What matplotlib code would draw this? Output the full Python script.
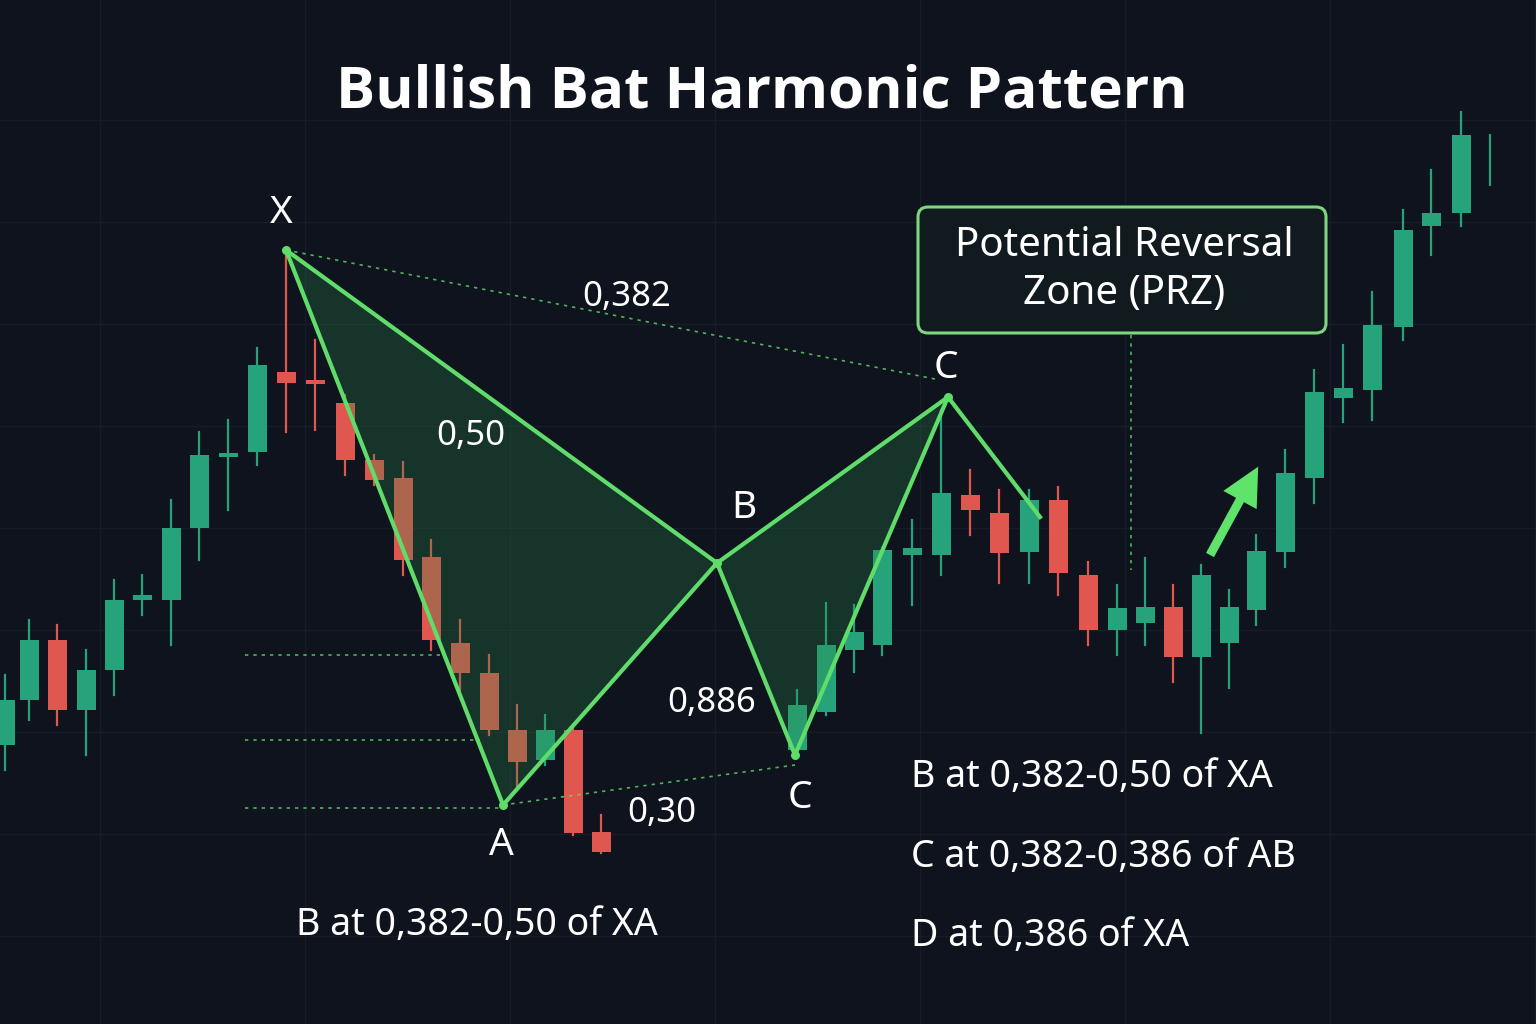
import matplotlib
matplotlib.use("Agg")
import matplotlib.pyplot as plt
from matplotlib.patches import Polygon, FancyBboxPatch, FancyArrow

# candle data (x position, open, close, high, low) in chart units (y grows downward)
cx = [5,29,57,86,114,142,171,199,228,257,286,315,345,374,403,431,460,489,517,545,573,601,
      797,826,854,882,912,941,970,999,1029,1058,1088,1117,1145,1173,1201,1229,1256,1285,1314,1343,1372,1403,1431,1461]
c_open = [745,700,640,710,670,600,600,528,457,452,372,380,403,460,478,557,643,673,730,760,730,832,
          750,712,650,645,555,555,495,513,552,500,575,630,623,607,657,643,610,552,478,398,390,327,226,213]
c_close = [700,640,710,670,600,595,528,455,453,365,383,383,460,480,560,640,673,730,762,730,833,852,
           705,645,632,550,548,493,510,553,500,573,630,608,607,657,575,607,551,473,392,388,325,230,213,135]
c_high = [675,620,625,650,580,575,500,432,420,348,250,340,395,455,462,540,620,655,705,715,725,815,
          690,603,605,548,520,410,470,490,490,487,562,585,558,585,565,590,535,450,370,345,292,210,170,112]
c_low = [770,720,725,755,695,615,645,560,510,465,432,430,475,485,575,650,690,735,790,765,835,853,
         755,715,672,655,605,575,535,583,583,595,645,655,645,682,733,688,625,567,503,422,420,340,255,226]

# pattern points
pts_x = [286,503,717,795,948,1040]
pts_y = [250,805,563,755,397,517]

BG = "#0e131d"; GREEN = "#26a37a"; RED = "#e0574f"; LINE = "#5fdc6a"

fig = plt.figure(figsize=(15.36,10.24), dpi=100, facecolor=BG)
ax = fig.add_axes([0,0,1,1]); ax.set_facecolor(BG)
ax.set_xlim(0,1536); ax.set_ylim(1024,0); ax.axis("off")

for gx in range(100,1536,205):
    ax.axvline(gx, color="#161c28", lw=1, zorder=0)
for gy in range(120,1024,102):
    ax.axhline(gy, color="#161c28", lw=1, zorder=0)

for x,o,c,h,l in zip(cx,c_open,c_close,c_high,c_low):
    col = GREEN if c < o else RED
    ax.plot([x,x],[h,l],color=col,lw=1.6,zorder=2)
    ax.bar(x, abs(c-o) if abs(c-o)>3 else 4, bottom=min(o,c), width=19, color=col, zorder=3)
ax.plot([1490,1490],[135,185],color=GREEN,lw=1.6,zorder=2)

X,A,B,C,C2,D = list(zip(pts_x,pts_y))
ax.add_patch(Polygon([X,A,B],closed=True,color="#2e8a4a",alpha=0.28,zorder=4,lw=0))
ax.add_patch(Polygon([B,C,C2],closed=True,color="#2e8a4a",alpha=0.28,zorder=4,lw=0))
ax.plot([X[0],A[0],B[0],C[0],C2[0],D[0]],[X[1],A[1],B[1],C[1],C2[1],D[1]],color=LINE,lw=3,zorder=5)
ax.plot([X[0],B[0],C2[0]],[X[1],B[1],C2[1]],color=LINE,lw=3,zorder=5)
ax.scatter(pts_x[:5],pts_y[:5],s=30,color=LINE,zorder=6)

dot = dict(color=LINE, lw=1.2, ls=(0,(2,3)), alpha=0.8, zorder=5)
ax.plot([X[0],940],[X[1],380],**dot)
ax.plot([A[0],795],[A[1],765],**dot)
for hy,x2 in [(655,440),(740,480),(808,500)]:
    ax.plot([245,x2],[hy,hy],**dot)
ax.plot([1131,1131],[335,570],**dot)

ax.add_patch(FancyBboxPatch((918,207),408,126,boxstyle="round,pad=0,rounding_size=10",
             fc="#111a1f",ec="#7ed67f",lw=2.2,zorder=6))
ax.text(1124,270,"Potential Reversal\nZone (PRZ)",color="white",fontsize=29,ha="center",va="center",
        linespacing=1.25,zorder=7,family="Noto Sans")
ax.add_patch(FancyArrow(1210,555,30,-55,width=9,head_width=38,head_length=38,color="#5fe36a",zorder=7,lw=0))

t = dict(color="white",zorder=8)
ax.text(762,92,"Bullish Bat Harmonic Pattern",fontsize=42,fontweight="bold",ha="center",va="center",
        family="Open Sans",**t)
for s,x,y,fs in [("X",281,213,28),("A",501,845,28),("B",744,508,28),("C",800,798,28),("C",946,368,28),
                 ("0,382",627,297,25),("0,50",471,436,25),("0,886",712,703,25),("0,30",662,813,25)]:
    ax.text(x,y,s,fontsize=fs,ha="center",va="center",family="Noto Sans",**t)
ax.text(296,925,"B at 0,382-0,50 of XA",fontsize=27,ha="left",va="center",family="Noto Sans",**t)
for s,y in [("B at 0,382-0,50 of XA",777),("C at 0,382-0,386 of AB",857),("D at 0,386 of XA",936)]:
    ax.text(911,y,s,fontsize=27,ha="left",va="center",family="Noto Sans",**t)

fig.savefig("out.png",dpi=100,facecolor=BG)
